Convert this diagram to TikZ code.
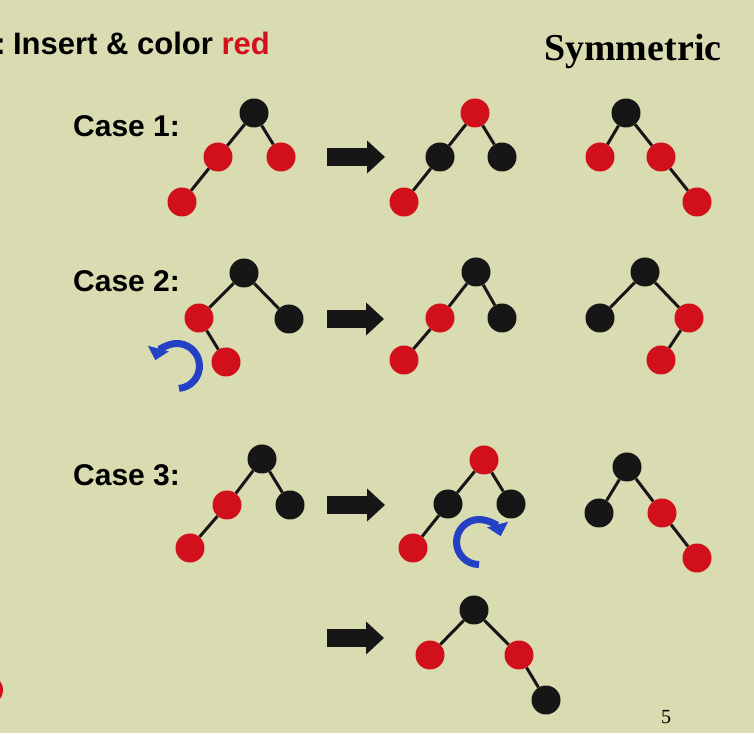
\documentclass[tikz,border=0pt]{standalone}
\usepackage{fontspec}
\setmainfont{Liberation Serif}
\newfontfamily\sansfam{Liberation Sans}
\usetikzlibrary{arrows.meta}
\definecolor{bgc}{RGB}{217,220,176}
\definecolor{nred}{RGB}{210,16,28}
\definecolor{nblack}{RGB}{22,22,22}
\definecolor{nblue}{RGB}{36,64,196}
\tikzset{
  rnode/.style={circle,fill=nred,minimum size=29pt,inner sep=0pt},
  bnode/.style={circle,fill=nblack,minimum size=29pt,inner sep=0pt},
  edge/.style={draw=nblack,line width=3pt},
  bigarrow/.style={draw=nblack,line width=18pt,-{Triangle[length=18pt,width=32pt]}},
  rot/.style={draw=nblue,line width=7pt,-{Triangle[length=12pt,width=21pt]}},
  casefont/.style={font=\sansfam\bfseries\fontsize{30}{36}\selectfont},
}
\begin{document}
\begin{tikzpicture}[x=1pt,y=1pt]
\useasboundingbox (0,0) rectangle (754,733);
\clip (0,0) rectangle (754,733);
\fill[bgc] (0,0) rectangle (754,733);

% texts
\node[font=\sansfam\bfseries\fontsize{31}{36}\selectfont,anchor=base east,inner sep=0pt] (title) at (270,678) {:\hspace{-4pt} Insert \& color \textcolor{nred}{red}};
\node[font=\bfseries\fontsize{38}{44}\selectfont,anchor=base west,inner sep=0pt] (sym) at (544,672) {Symmetric};
\node[casefont,anchor=base west,inner sep=0pt] (c1) at (73,596) {Case 1:};
\node[casefont,anchor=base west,inner sep=0pt] (c2) at (73,441) {Case 2:};
\node[casefont,anchor=base west,inner sep=0pt] (c3) at (73,247) {Case 3:};
\node[font=\fontsize{20}{24}\selectfont,anchor=base,inner sep=0pt] (pg) at (666,10) {5};

% partial red node at left edge
\node[rnode] (edgered) at (-11.5,43) {};

% Case 1
\node[bnode] (a1r) at (254,620) {};
\node[rnode] (a1l) at (218,576) {};
\node[rnode] (a1rr) at (281,576) {};
\node[rnode] (a1ll) at (182,531) {};
\draw[edge] (a1r) -- (a1l) (a1r) -- (a1rr) (a1l) -- (a1ll);

\node[rnode] (b1r) at (475,620) {};
\node[bnode] (b1l) at (440,576) {};
\node[bnode] (b1rr) at (502,576) {};
\node[rnode] (b1ll) at (404,531) {};
\draw[edge] (b1r) -- (b1l) (b1r) -- (b1rr) (b1l) -- (b1ll);

\node[bnode] (s1r) at (626,620) {};
\node[rnode] (s1l) at (600,576) {};
\node[rnode] (s1rr) at (661,576) {};
\node[rnode] (s1rrr) at (697,531) {};
\draw[edge] (s1r) -- (s1l) (s1r) -- (s1rr) (s1rr) -- (s1rrr);

% Case 2
\node[bnode] (a2r) at (244,460) {};
\node[rnode] (a2l) at (199,415) {};
\node[bnode] (a2rr) at (289,414) {};
\node[rnode] (a2lr) at (226,371) {};
\draw[edge] (a2r) -- (a2l) (a2r) -- (a2rr) (a2l) -- (a2lr);

\node[bnode] (b2r) at (476,461) {};
\node[rnode] (b2l) at (440,415) {};
\node[bnode] (b2rr) at (502,415) {};
\node[rnode] (b2ll) at (404,373) {};
\draw[edge] (b2r) -- (b2l) (b2r) -- (b2rr) (b2l) -- (b2ll);

\node[bnode] (s2r) at (645,461) {};
\node[bnode] (s2l) at (600,415) {};
\node[rnode] (s2rr) at (689,415) {};
\node[rnode] (s2rl) at (661,373) {};
\draw[edge] (s2r) -- (s2l) (s2r) -- (s2rr) (s2rr) -- (s2rl);

% Case 3
\node[bnode] (a3r) at (262,274) {};
\node[rnode] (a3l) at (227,228) {};
\node[bnode] (a3rr) at (290,228) {};
\node[rnode] (a3ll) at (190,185) {};
\draw[edge] (a3r) -- (a3l) (a3r) -- (a3rr) (a3l) -- (a3ll);

\node[rnode] (b3r) at (484,273) {};
\node[bnode] (b3l) at (448,229) {};
\node[bnode] (b3rr) at (511,229) {};
\node[rnode] (b3ll) at (413,185) {};
\draw[edge] (b3r) -- (b3l) (b3r) -- (b3rr) (b3l) -- (b3ll);

\node[bnode] (s3r) at (627,266) {};
\node[bnode] (s3l) at (599,220) {};
\node[rnode] (s3rr) at (662,220) {};
\node[rnode] (s3rrr) at (697,175) {};
\draw[edge] (s3r) -- (s3l) (s3r) -- (s3rr) (s3rr) -- (s3rrr);

% bottom result
\node[bnode] (d3r) at (474,123) {};
\node[rnode] (d3l) at (430,78) {};
\node[rnode] (d3rr) at (519,78) {};
\node[bnode] (d3rrr) at (546,33) {};
\draw[edge] (d3r) -- (d3l) (d3r) -- (d3rr) (d3rr) -- (d3rrr);

% big arrows
\coordinate (ar1s) at (327,576); \coordinate (ar1e) at (385,576);
\coordinate (ar2s) at (327,414); \coordinate (ar2e) at (384,414);
\coordinate (ar3s) at (327,228); \coordinate (ar3e) at (385,228);
\coordinate (ar4s) at (327,95);  \coordinate (ar4e) at (384,95);
\draw[bigarrow] (ar1s) -- (ar1e);
\draw[bigarrow] (ar2s) -- (ar2e);
\draw[bigarrow] (ar3s) -- (ar3e);
\draw[bigarrow] (ar4s) -- (ar4e);

% rotation arrows
\coordinate (rc2) at (177,367);
\coordinate (rc3) at (479,191);
\draw[rot] (rc2) ++(-85:22.5) arc[start angle=-85,end angle=165,radius=22.5];
\draw[rot] (rc3) ++(270:22.5) arc[start angle=270,end angle=15,radius=22.5];
\end{tikzpicture}
\end{document}
